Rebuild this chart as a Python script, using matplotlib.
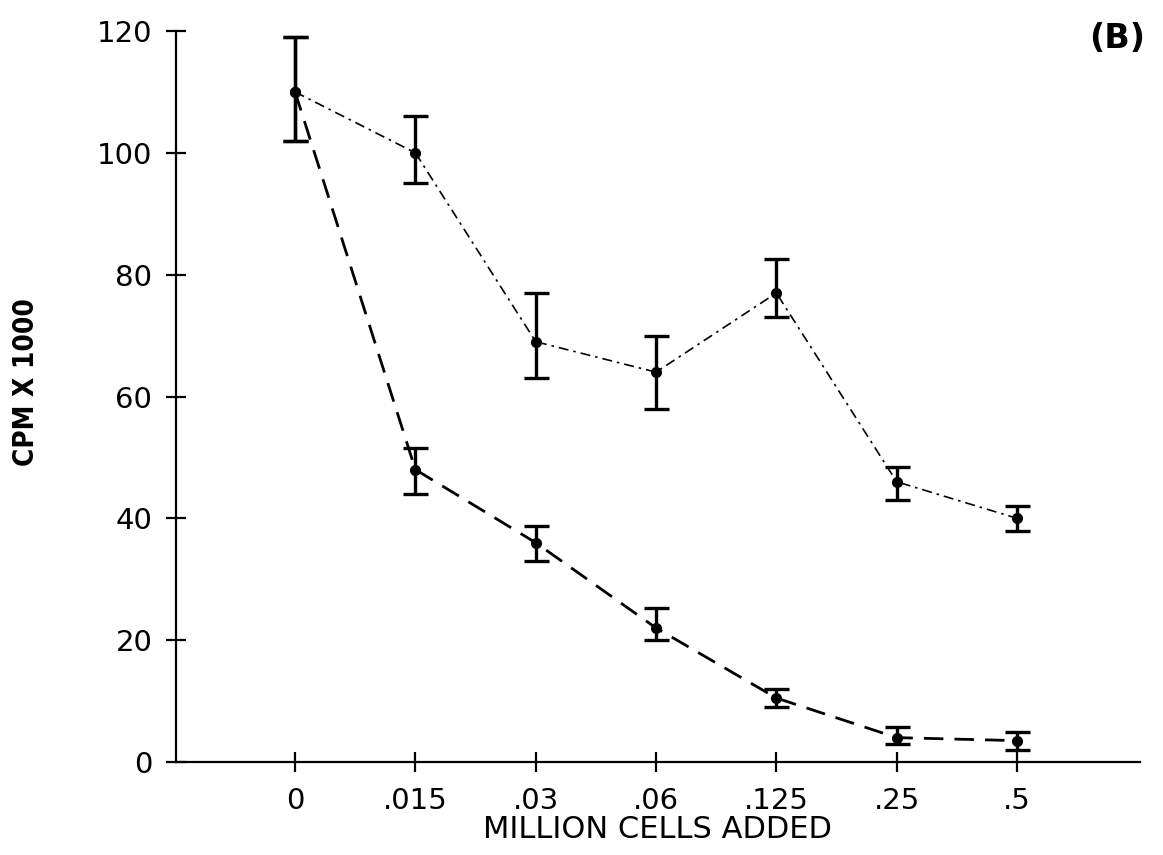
import matplotlib
matplotlib.use("Agg")
import matplotlib.pyplot as plt
import numpy as np

categories = ["0", ".015", ".03", ".06", ".125", ".25", ".5"]

# Upper curve (dash-dot)
upper_mean = [110, 100, 69, 64, 77, 46, 40]
upper_low = [102, 95, 63, 58, 73, 43, 38]
upper_high = [119, 106, 77, 70, 82.5, 48.5, 42]

# Lower curve (dashed)
lower_mean = [110, 48, 36, 22, 10.5, 4, 3.5]
lower_low = [102, 44, 33, 20, 9, 3, 2]
lower_high = [119, 51.5, 38.7, 25.3, 12, 5.7, 5]

yticks = [0, 20, 40, 60, 80, 100, 120]

fig = plt.figure(figsize=(11.63, 8.55), dpi=100)
ax = fig.add_axes([0.1513, 0.1088, 0.8287, 0.8549])

x = np.arange(len(categories))

def draw(mean, low, high, lw, dashes):
    mean = np.array(mean); low = np.array(low); high = np.array(high)
    line, = ax.plot(x, mean, color="black", lw=lw, zorder=2)
    line.set_dashes(dashes)
    ax.errorbar(x, mean, yerr=[mean - low, high - mean], fmt="o", color="black",
                markersize=7, elinewidth=2.4, capsize=9, capthick=2.4, zorder=3)

draw(upper_mean, upper_low, upper_high, 1.2, [6, 3, 1.5, 3])
draw(lower_mean, lower_low, lower_high, 2.0, [7, 4])

ax.set_xlim(-0.99, 7.02)
ax.set_ylim(0, 120)
ax.set_xticks(x)
ax.set_xticklabels(categories)
ax.set_yticks(yticks)
ax.set_yticklabels([str(v) for v in yticks])

for s in ["top", "right"]:
    ax.spines[s].set_visible(False)
for s in ["left", "bottom"]:
    ax.spines[s].set_linewidth(1.6)
    ax.spines[s].set_clip_on(False)

ax.tick_params(axis="both", direction="inout", length=14, width=1.6,
               labelsize=21, colors="black")
ax.tick_params(axis="x", pad=11)
ax.tick_params(axis="y", pad=10)
for lab in ax.get_xticklabels() + ax.get_yticklabels():
    lab.set_family(["DejaVu Sans"])

ax.set_xlabel("MILLION CELLS ADDED", fontsize=22, family=["DejaVu Sans"], labelpad=0)
ax.set_ylabel("CPM X 1000", fontsize=20, fontweight="bold", fontstretch="condensed",
              family=["Liberation Sans Narrow", "DejaVu Sans"])
ax.yaxis.set_label_coords(-0.141, 0.52)

fig.text(0.985, 0.955, "(B)", fontsize=24, fontweight="bold", ha="right", va="center",
         family=["DejaVu Sans"])

fig.savefig("out.png", dpi=100)
